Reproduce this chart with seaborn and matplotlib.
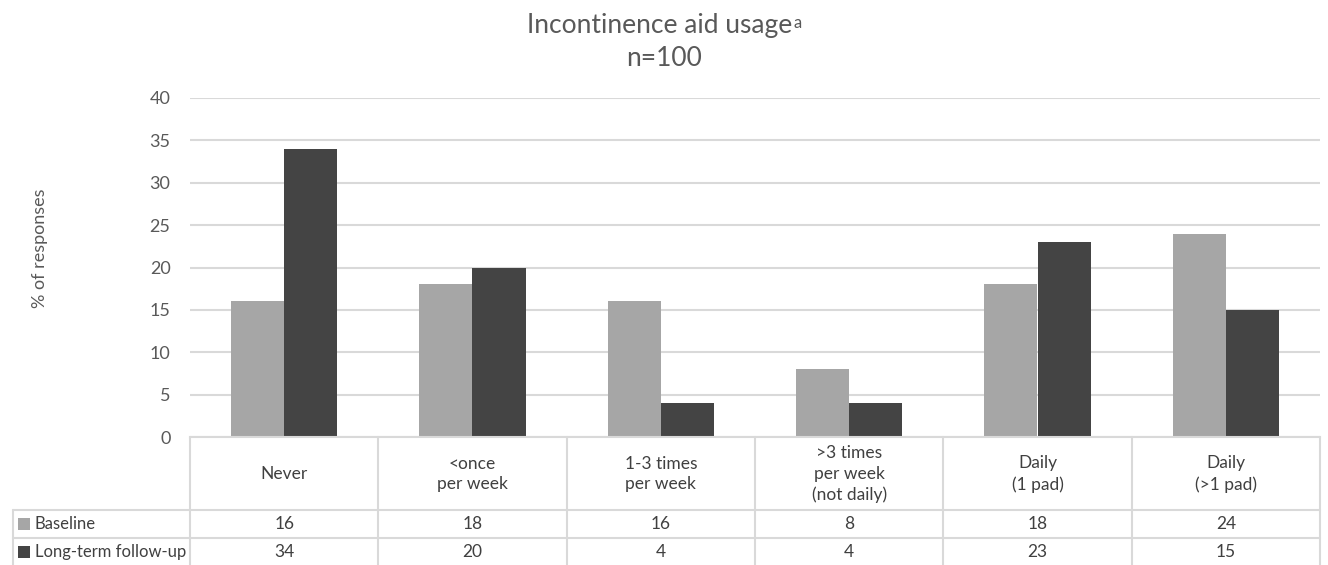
import matplotlib.pyplot as plt
import matplotlib.transforms as mtransforms
from matplotlib.lines import Line2D
from matplotlib.patches import Rectangle
import seaborn as sns
import pandas as pd

categories = ["Never", "<once\nper week", "1-3 times\nper week",
              ">3 times\nper week\n(not daily)", "Daily\n(1 pad)", "Daily\n(>1 pad)"]
groups = ["Baseline", "Long-term follow-up"]
baseline = [16, 18, 16, 8, 18, 24]
followup = [34, 20, 4, 4, 23, 15]
colors = ["#a6a6a6", "#444444"]

df = pd.DataFrame({
    "category": categories * 2,
    "group": [groups[0]] * len(categories) + [groups[1]] * len(categories),
    "pct": baseline + followup,
})

sns.set_theme(style="whitegrid")
plt.rcParams['font.family'] = ['Lato', 'DejaVu Sans']
text_col = "#595959"
grid_col = "#d9d9d9"

W, H = 1328, 565
fig = plt.figure(figsize=(W / 100, H / 100), dpi=100)
fx = lambda px: px / W
fy = lambda py: 1 - py / H

ax = fig.add_axes([fx(190), fy(437), fx(1320) - fx(190), fy(98) - fy(437)])
sns.barplot(data=df, x="category", y="pct", hue="group", palette=colors,
            width=0.565, saturation=1, ax=ax, legend=False, edgecolor="none")

ax.set_ylim(0, 40)
ax.set_xlim(-0.5, len(categories) - 0.5)
ax.set_yticks(range(0, 45, 5))
ax.tick_params(axis="y", length=0, pad=14, labelsize=13, labelcolor=text_col)
ax.set_xticks([])
ax.set_xlabel("")
ax.set_ylabel("")
ax.grid(axis="y", color=grid_col, lw=1.5)
ax.grid(axis="x", visible=False)
for s in ["left", "right", "top"]:
    ax.spines[s].set_visible(False)
ax.spines["bottom"].set_color(grid_col)
ax.spines["bottom"].set_linewidth(1.5)
ax.set_axisbelow(True)

fig.text(fx(40), fy(248), "% of responses", rotation=90, ha="center", va="center",
         fontsize=13, color=text_col)

# title with superscript
t1 = fig.text(0.497, fy(25), "Incontinence aid usage", ha="center", va="center",
              fontsize=19, color=text_col)
ax.annotate("a", xy=(1, 0.88), xycoords=t1, xytext=(0.5, 0), textcoords="offset points",
            ha="left", va="top", fontsize=12, color=text_col)
fig.text(0.5, fy(58), "n=100", ha="center", va="center", fontsize=19, color=text_col)

# data table below the axis
blend = mtransforms.blended_transform_factory(ax.transData, fig.transFigure)
tcol = "#404040"
for i in range(len(categories) + 1):
    fig.add_artist(Line2D([i - 0.5, i - 0.5], [fy(437), fy(566)], transform=blend,
                          color=grid_col, lw=1.5))
fig.add_artist(Line2D([fx(13), fx(13)], [fy(510), fy(566)], transform=fig.transFigure,
                      color=grid_col, lw=1.5))
for py in [510, 538]:
    fig.add_artist(Line2D([fx(13), fx(1320)], [fy(py), fy(py)], transform=fig.transFigure,
                          color=grid_col, lw=1.5))

for i, cat in enumerate(categories):
    fig.text(i, fy(474), cat, transform=blend, ha="center", va="center",
             fontsize=12.5, color=tcol, linespacing=1.35)
    fig.text(i, fy(524), str(baseline[i]), transform=blend, ha="center", va="center",
             fontsize=12.5, color=tcol)
    fig.text(i, fy(552), str(followup[i]), transform=blend, ha="center", va="center",
             fontsize=12.5, color=tcol)

for name, c, py in zip(groups, colors, [524, 552]):
    fig.add_artist(Rectangle((fx(18), fy(py + 6)), fx(12), fy(0) - fy(12),
                             transform=fig.transFigure, color=c, lw=0))
    fig.text(fx(35), fy(py), name, ha="left", va="center", fontsize=12, color=tcol)

fig.savefig("out.png", dpi=100)
